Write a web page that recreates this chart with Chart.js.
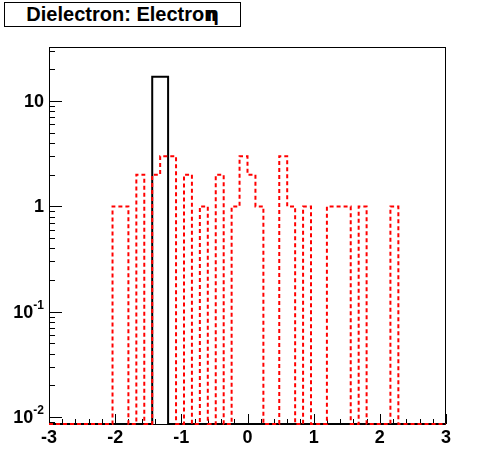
<!DOCTYPE html>
<html>
<head>
<meta charset="utf-8">
<script src="https://cdn.jsdelivr.net/npm/chart.js@4"></script>
<style>
  body { margin: 0; background: #fff; }
  #wrap { position: relative; width: 496px; height: 472px; }
  #title {
    position: absolute; left: 4px; top: 2px; width: 235px; height: 23px;
    border: 1px solid #000; background: #fff;
    font: bold 20px "Liberation Sans", Arial, sans-serif;
    text-align: center; line-height: 23px; white-space: nowrap;
  }
</style>
</head>
<body>
<div id="wrap">
  <canvas id="hist" width="496" height="472"></canvas>
  <div id="title">Dielectron: Electron<span style="margin-left:-10px">&eta;</span></div>
</div>
<script>
// histogram binning: 50 bins over [-3, 3]
const BIN_MIN = -3;
const BIN_WIDTH = 0.12;

// counts per bin, left to right
const dielectronEta = [
    0, 0, 0, 0, 0, 0, 0, 0, 1, 1,
    0, 2, 0, 2, 3, 3, 0, 2, 0, 1,
    0, 2, 0, 1, 3, 2, 1, 0, 0, 3,
    1, 0, 1, 0, 0, 1, 1, 1, 0, 1,
    0, 0, 0, 1, 0, 0, 0, 0, 0, 0
];
const electronEta = [
    0, 0, 0, 0, 0, 0, 0, 0, 0, 0,
    0, 0, 0, 17, 17, 0, 0, 0, 0, 0,
    0, 0, 0, 0, 0, 0, 0, 0, 0, 0,
    0, 0, 0, 0, 0, 0, 0, 0, 0, 0,
    0, 0, 0, 0, 0, 0, 0, 0, 0, 0
];

// axis range and tick labels
const X_MIN = -3, X_MAX = 3;
const Y_MIN = 0.00859, Y_MAX = 32.6;
const xTickLabels = ["-3", "-2", "-1", "0", "1", "2", "3"];
const yTickLabels = [
    {value: 10, base: "10", exp: ""},
    {value: 1, base: "1", exp: ""},
    {value: 0.1, base: "10", exp: "-1"},
    {value: 0.01, base: "10", exp: "-2"}
];

/**
 * turns bin counts into step points, empty bins sit on the bottom of the frame
 */
function toSteps(counts) {
    let pts = [];
    for (let i = 0; i < counts.length; i++) {
        pts.push({x: BIN_MIN + i * BIN_WIDTH, y: counts[i] > 0 ? counts[i] : Y_MIN});
    }
    let last = counts[counts.length - 1];
    pts.push({x: BIN_MIN + counts.length * BIN_WIDTH, y: last > 0 ? last : Y_MIN});
    return pts;
}

const FONT = '"Liberation Sans", Arial, sans-serif';

// frame, inward ticks and labels drawn ROOT-like
const rootFrame = {
    id: 'rootFrame',
    beforeDatasetsDraw(chart) {
        const ctx = chart.ctx;
        const a = chart.chartArea;
        const xs = chart.scales.x, ys = chart.scales.y;
        ctx.save();
        ctx.strokeStyle = '#000';
        ctx.lineWidth = 1;
        ctx.strokeRect(a.left + 0.5, a.top + 0.5, a.right - a.left - 1, a.bottom - a.top);

        ctx.beginPath();
        // x ticks every 0.2, major at integers
        for (let i = 0; i <= 30; i++) {
            let v = X_MIN + i * 0.2;
            let px = Math.round(xs.getPixelForValue(v)) + 0.5;
            let len = (i % 5 === 0) ? 10 : 5;
            ctx.moveTo(px, a.bottom);
            ctx.lineTo(px, a.bottom - len);
        }
        // y ticks, majors at decades, minors at 2..9
        for (let d = -3; d <= 1; d++) {
            for (let m = 1; m <= 9; m++) {
                let v = m * Math.pow(10, d);
                if (v < Y_MIN || v > Y_MAX) continue;
                let py = Math.round(ys.getPixelForValue(v)) + 0.5;
                let len = (m === 1) ? 13 : 6;
                ctx.moveTo(a.left, py);
                ctx.lineTo(a.left + len, py);
            }
        }
        ctx.stroke();

        // labels
        ctx.fillStyle = '#000';
        ctx.font = 'bold 18px ' + FONT;
        ctx.textAlign = 'center';
        ctx.textBaseline = 'middle';
        for (let i = 0; i < xTickLabels.length; i++) {
            ctx.fillText(xTickLabels[i], xs.getPixelForValue(X_MIN + i), a.bottom + 14);
        }
        ctx.textAlign = 'right';
        for (const t of yTickLabels) {
            let py = ys.getPixelForValue(t.value);
            let right = a.left - 5;
            if (t.exp) {
                ctx.font = 'bold 12px ' + FONT;
                let w = ctx.measureText(t.exp).width;
                ctx.fillText(t.exp, right, py - 6);
                ctx.font = 'bold 18px ' + FONT;
                ctx.fillText(t.base, right - w, py + 1);
            } else {
                ctx.font = 'bold 18px ' + FONT;
                ctx.fillText(t.base, right, py + 1);
            }
        }
        ctx.restore();
    }
};

new Chart(document.getElementById('hist'), {
    type: 'line',
    data: {
        datasets: [{
            label: 'Dielectron',
            data: toSteps(dielectronEta),
            borderColor: '#ff0000',
            borderWidth: 2,
            borderDash: [4, 3],
            stepped: true,
            pointRadius: 0,
            fill: false,
            clip: 4,
            order: 0
        }, {
            label: 'Electron',
            data: toSteps(electronEta),
            borderColor: '#000000',
            borderWidth: 2,
            stepped: true,
            pointRadius: 0,
            fill: false,
            clip: 4,
            order: 1
        }]
    },
    options: {
        responsive: false,
        animation: false,
        devicePixelRatio: 1,
        layout: {padding: {left: 49, right: 50, top: 47, bottom: 48}},
        plugins: {legend: {display: false}, tooltip: {enabled: false}, title: {display: false}},
        scales: {
            x: {type: 'linear', min: X_MIN, max: X_MAX, display: false},
            y: {type: 'logarithmic', min: Y_MIN, max: Y_MAX, bounds: 'data', display: false}
        }
    },
    plugins: [rootFrame]
});
</script>
</body>
</html>
